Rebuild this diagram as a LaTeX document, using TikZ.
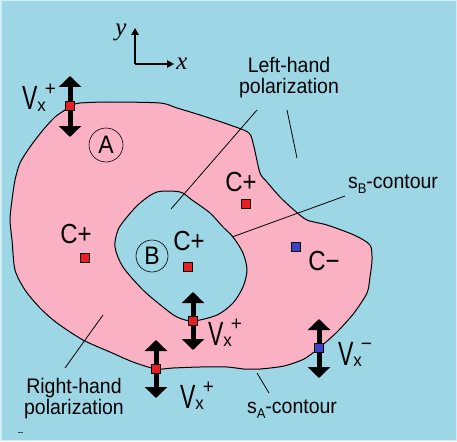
\documentclass[tikz,border=0pt]{standalone}
\usepackage{fontspec}
\setmainfont{Liberation Sans}
\newfontfamily\serifit{Liberation Serif}
\usetikzlibrary{arrows.meta}
\definecolor{bg}{RGB}{157,215,230}
\definecolor{pinkA}{RGB}{250,177,196}
\definecolor{sqred}{RGB}{232,30,36}
\definecolor{sqblue}{RGB}{64,64,200}
\newcommand\fs[1]{\fontsize{#1}{#1}\selectfont}
\newcommand\VV{\scalebox{0.72}[1]{\fs{32}V}}
\newcommand\vlab[1]{\scalebox{1}[1.05]{\VV\raisebox{-1pt}{\fs{17}x}\kern-1pt\raisebox{14pt}{\fs{19}#1}}}
\newcommand\twoline[2]{\scalebox{1}[1.08]{\fs{19.5}\def\arraystretch{0.95}\begin{tabular}{@{}c@{}}#1\\#2\end{tabular}}}
\newcommand\slab[1]{\scalebox{1}[1.08]{\fs{19.5}s\raisebox{-5pt}{\fs{13}#1}-contour}}
\newcommand\clab[1]{\scalebox{1}[1.15]{\fs{24}C#1}}
\newcommand\circlab[1]{\scalebox{1}[1.1]{\fs{23}#1}}
\tikzset{
  contour/.style={draw=black, line width=1pt},
  leader/.style={draw=black, line width=0.8pt},
  lbl/.style={inner sep=0pt, outer sep=0pt},
  circ/.style={circle, draw=black, line width=0.6pt, inner sep=0pt},
  sqr/.style={rectangle, draw=black, line width=0.6pt, minimum size=8.5pt, inner sep=0pt, fill=sqred},
  sqb/.style={sqr, fill=sqblue},
  varrow/.style={line width=5pt, {Triangle[length=11pt,width=22pt]}-{Triangle[length=11pt,width=22pt]}},
  axis/.style={line width=1.3pt, -{Triangle[length=7pt,width=7.5pt]}},
}
\begin{document}
\begin{tikzpicture}[x=1pt,y=-1pt]
\fill[bg] (0,0) rectangle (457,441);
\draw[white!55!bg, line width=1.5pt] (0.75,0.75) rectangle (456.25,440.25);
\useasboundingbox (0,0) rectangle (457,441);
% outer contour s_A
\draw[contour, fill=pinkA] plot[smooth cycle, tension=0.45] coordinates {
 (70,106) (80,103) (110,102) (160,103) (177,108) (200,115) (230,125) (249,133)
 (254,147) (260,173) (267,182) (280,197) (294,210) (307,220) (327,225) (354,235)
 (370,245) (372,260) (370,277) (367,293) (354,313) (337,332) (319,348) (304,359)
 (284,366) (260,369) (244,369) (227,367) (200,367) (173,368) (156,369) (133,362)
 (110,352) (83,340) (57,323) (40,308) (25,290) (15,270) (12,240) (10,220)
 (12,200) (15,180) (20,163) (30,147) (43,130) (55,117) (65,110)};
% inner contour s_B (hole)
\draw[contour, fill=bg] plot[smooth cycle, tension=0.5] coordinates {
 (157,192) (180,192) (192,200) (210,213) (223,227) (233,237) (243,253) (247,270)
 (243,287) (233,303) (217,315) (193,321) (177,317) (163,307) (143,290) (123,267)
 (115,247) (118,230) (127,217) (140,203)};
% axes
\coordinate (o) at (135,64);
\coordinate (ytip) at (135,28);
\coordinate (xtip) at (174,64);
\draw[axis] (o) -- (ytip);
\draw[axis] (o) -- (xtip);
\node[lbl, font=\serifit\itshape\fs{25}] (ylab) at (121,32) {y};
\node[lbl, font=\serifit\itshape\fs{25}] (xlab) at (182,64) {x};
% circles A, B
\node[circ, minimum size=34pt] (cA) at (106,145) {\circlab{A}};
\node[circ, minimum size=32pt] (cB) at (152,256) {\circlab{B}};
% leader lines
\coordinate (l1a) at (171,209); \coordinate (l1b) at (257,110);
\coordinate (l2a) at (287,110); \coordinate (l2b) at (297,158);
\coordinate (l3a) at (232,237); \coordinate (l3b) at (345,196);
\coordinate (l4a) at (257,373); \coordinate (l4b) at (269,393);
\coordinate (l5a) at (103,315); \coordinate (l5b) at (65,368);
\draw[leader] (l1a) -- (l1b);
\draw[leader] (l2a) -- (l2b);
\draw[leader] (l3a) -- (l3b);
\draw[leader] (l4a) -- (l4b);
\draw[leader] (l5a) -- (l5b);
% text labels
\node[lbl] (lhp) at (289,78.5) {\twoline{Left-hand}{polarization}};
\node[lbl] (rhp) at (74,399) {\twoline{Right-hand}{polarization}};
\node[lbl, anchor=base] (sA) at (292,413) {\slab{A}};
\node[lbl, anchor=base] (sB) at (393,188) {\slab{B}};
% C labels and squares
\node[lbl, anchor=base] (c1) at (241,191) {\clab{+}};
\node[lbl, anchor=base] (c2) at (76,243) {\clab{+}};
\node[lbl, anchor=base] (c3) at (189,250) {\clab{+}};
\node[lbl, anchor=base] (c4) at (324,270) {\clab{−}};
\node[sqr] (q1) at (246,204) {};
\node[sqr] (q2) at (85,258) {};
\node[sqr] (q3) at (188,267) {};
\node[sqb] (q4) at (296,247) {};
% velocity arrows
\coordinate (a1t) at (70,76);  \coordinate (a1b) at (70,137);
\coordinate (a2t) at (193,292); \coordinate (a2b) at (193,350);
\coordinate (a3t) at (156,340); \coordinate (a3b) at (156,398);
\coordinate (a4t) at (319,319); \coordinate (a4b) at (319,378);
\draw[varrow] (a1t) -- (a1b);
\draw[varrow] (a2t) -- (a2b);
\draw[varrow] (a3t) -- (a3b);
\draw[varrow] (a4t) -- (a4b);
\node[sqr] (v1) at (70,106) {};
\node[sqr] (v2) at (193,321) {};
\node[sqr] (v3) at (156,369) {};
\node[sqb] (v4) at (319,348) {};
\node[lbl, anchor=base west] (t1) at (22,110) {\vlab{+}};
\node[lbl, anchor=base west] (t2) at (208,345) {\vlab{+}};
\node[lbl, anchor=base west] (t3) at (180,408) {\vlab{+}};
\node[lbl, anchor=base west] (t4) at (338,365) {\vlab{−}};
% small mark
\coordinate (m1) at (18,432); \coordinate (m2) at (23,432);
\draw[black!70, line width=0.6pt] (m1) -- (m2);
\end{tikzpicture}
\end{document}
